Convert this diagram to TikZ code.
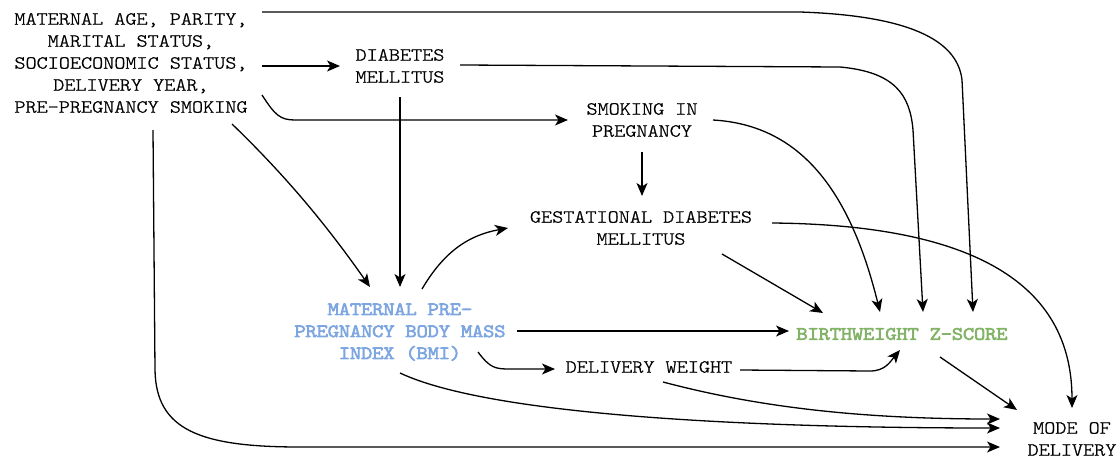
\documentclass[tikz,border=0pt]{standalone}
\usepackage{fontspec}
\setmonofont{Latin Modern Mono Light}[FakeStretch=1.143,FakeBold=1.2]
\newfontfamily\boldmono{Latin Modern Mono Light}[FakeStretch=1.143,FakeBold=5]
\usetikzlibrary{arrows.meta}
\definecolor{bmiblue}{HTML}{7EA6E0}
\definecolor{bwgreen}{HTML}{82B366}
\begin{document}
\begin{tikzpicture}[x=1pt,y=-1pt,
  lbl/.style={inner sep=0pt,align=center,font=\ttfamily\fontsize{18.5}{22}\selectfont},
  bld/.style={lbl,font=\boldmono\fontsize{18.5}{22}\selectfont},
  arr/.style={line width=1.3pt,-{Stealth[length=13pt,width=11pt,inset=3.5pt]}}]
\useasboundingbox (0,0) rectangle (1118,458);
\node[lbl] (conf) at (131,63) {MATERNAL AGE, PARITY,\\MARITAL STATUS,\\SOCIOECONOMIC STATUS,\\DELIVERY YEAR,\\PRE-PREGNANCY SMOKING};
\node[lbl] (dm) at (400,66) {DIABETES\\MELLITUS};
\node[lbl] (smk) at (642,120) {SMOKING IN\\PREGNANCY};
\node[lbl] (gdm) at (641,228) {GESTATIONAL DIABETES\\MELLITUS};
\node[bld,text=bmiblue] (bmi) at (400,332) {MATERNAL PRE-\\PREGNANCY BODY MASS\\INDEX (BMI)};
\node[lbl] (dw) at (649,367) {DELIVERY WEIGHT};
\node[bld,text=bwgreen] (bwz) at (902,334) {BIRTHWEIGHT Z-SCORE};
\node[lbl] (mod) at (1072,439) {MODE OF\\DELIVERY};

% confounders
\draw[arr] ([shift={(131,-51)}]conf.center) -- (800,12) .. controls (920,16) and (958,45) .. (962,80) -- ([shift={(71,-22)}]bwz.center);
\draw[arr] ([shift={(131,3)}]conf.center) -- ([shift={(-60,0)}]dm.center);
\draw[arr] ([shift={(131,32)}]conf.center) .. controls (275,115) and (280,120) .. (295,120) -- ([shift={(-74,0)}]smk.center);
\draw[arr] ([shift={(101,61)}]conf.center) .. controls (290,180) and (330,230) .. ([shift={(-30,-45)}]bmi.center);
\draw[arr] ([shift={(22,67)}]conf.center) -- (155,370) .. controls (156,430) and (200,447) .. (300,447) -- ([shift={(-72,8)}]mod.center);
% diabetes
\draw[arr] ([shift={(0,31)}]dm.center) -- ([shift={(0,-45)}]bmi.center);
\draw[arr] ([shift={(60,-1)}]dm.center) -- (840,67) .. controls (895,72) and (910,95) .. (913,130) -- ([shift={(21,-22)}]bwz.center);
% smoking
\draw[arr] ([shift={(0,32)}]smk.center) -- ([shift={(1,-32)}]gdm.center);
\draw[arr] ([shift={(71,0)}]smk.center) .. controls (800,125) and (850,190) .. ([shift={(-22,-22)}]bwz.center);
% gdm
\draw[arr] ([shift={(81,26)}]gdm.center) -- ([shift={(-79,-21)}]bwz.center);
\draw[arr] ([shift={(131,-5)}]gdm.center) .. controls (1000,225) and (1072,300) .. ([shift={(0,-31)}]mod.center);
% bmi
\draw[arr] ([shift={(22,-43)}]bmi.center) .. controls (445,250) and (470,235) .. ([shift={(-133,0)}]gdm.center);
\draw[arr] ([shift={(117,-1)}]bmi.center) -- ([shift={(-113,-3)}]bwz.center);
\draw[arr] ([shift={(78,20)}]bmi.center) .. controls (490,368) and (495,369) .. (510,369) -- ([shift={(-94,2)}]dw.center);
\draw[arr] ([shift={(0,41)}]bmi.center) .. controls (500,420) and (800,428) .. ([shift={(-72,-11)}]mod.center);
% delivery weight
\draw[arr] ([shift={(91,3)}]dw.center) -- (870,371) .. controls (885,371) and (890,362) .. ([shift={(-2,16)}]bwz.center);
\draw[arr] ([shift={(14,15)}]dw.center) .. controls (750,405) and (850,419) .. ([shift={(-72,-20)}]mod.center);
% birthweight
\draw[arr] ([shift={(38,23)}]bwz.center) -- ([shift={(-55,-29)}]mod.center);
\end{tikzpicture}
\end{document}
